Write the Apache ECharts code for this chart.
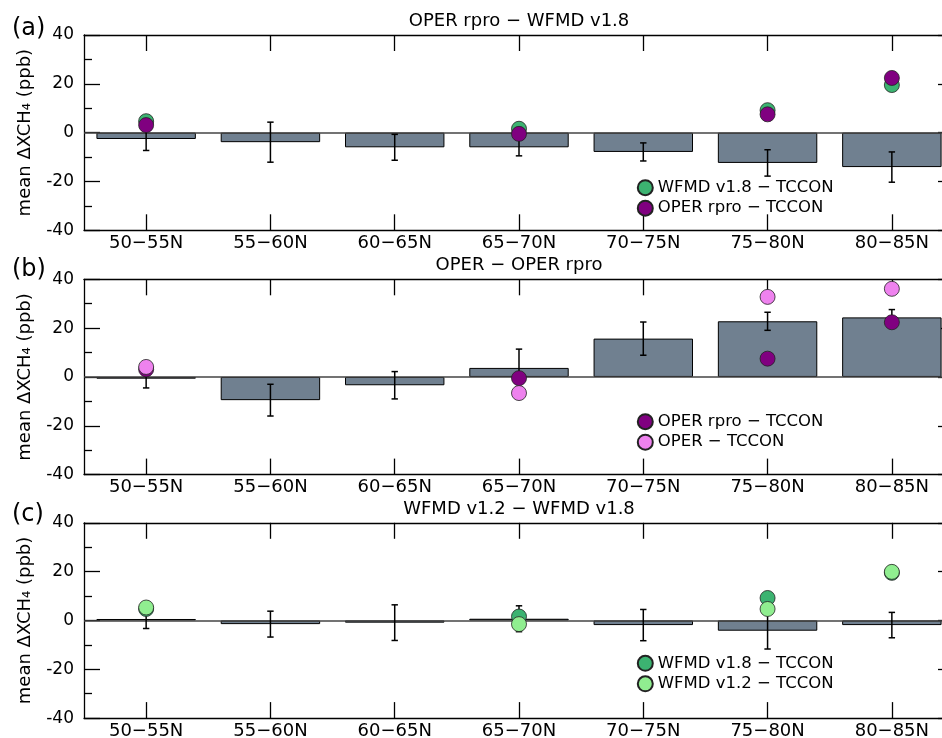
<!DOCTYPE html>
<html>
<head>
<meta charset="utf-8">
<script src="https://cdn.jsdelivr.net/npm/echarts@6/dist/echarts.min.js"></script>
<style>
  html, body { margin: 0; padding: 0; background: #ffffff; }
  #chart { width: 942px; height: 738px; }
</style>
</head>
<body>
<div id="chart"></div>
<script>
// Latitude bands (x categories) and y tick range
const latBands = ['50−55N', '55−60N', '60−65N', '65−70N', '70−75N', '75−80N', '80−85N'];
const yTickValues = [-40, -20, 0, 20, 40];

// (a) OPER rpro − WFMD v1.8 : mean difference and its spread
const diffRproWfmd18 = [-2.6, -3.9, -6.0, -6.0, -7.9, -12.4, -14.1];
const errRproWfmd18 = [4.7, 8.2, 5.3, 3.5, 3.7, 5.4, 6.2];

// (b) OPER − OPER rpro
const diffOperRpro = [-0.7, -9.5, -3.4, 3.7, 15.7, 22.8, 24.4];
const errOperRpro = [3.8, 6.5, 5.6, 7.7, 6.8, 3.7, 3.2];

// (c) WFMD v1.2 − WFMD v1.8
const diffWfmd12Wfmd18 = [0.6, -1.5, -0.9, 0.7, -1.9, -4.2, -1.9];
const errWfmd12Wfmd18 = [3.9, 5.3, 7.3, 5.3, 6.4, 7.5, 5.2];

// Comparisons against TCCON stations (null where no station)
const wfmd18MinusTccon = [4.7, null, null, 1.6, null, 9.2, 19.5];
const operRproMinusTccon = [3.1, null, null, -0.5, null, 7.5, 22.4];
const operMinusTccon = [4.1, null, null, -6.6, null, 32.8, 36.1];
const wfmd12MinusTccon = [5.3, null, null, -1.5, null, 4.7, 19.9];

const FONT = 'DejaVu Sans';
const GRID_LEFT = 84;
const GRID_WIDTH = 870;
const GRID_HEIGHT = 195.3;
const gridTops = [35, 279.3, 522.8];

const panels = [
  {
    letter: '(a)', title: 'OPER rpro − WFMD v1.8',
    diff: diffRproWfmd18, err: errRproWfmd18,
    points: [
      { name: 'WFMD v1.8 − TCCON', color: '#3cb371', values: wfmd18MinusTccon },
      { name: 'OPER rpro − TCCON', color: '#800080', values: operRproMinusTccon }
    ],
    legendTop: 179.2, letterY: 30.5, titleY: 21
  },
  {
    letter: '(b)', title: 'OPER − OPER rpro',
    diff: diffOperRpro, err: errOperRpro,
    points: [
      { name: 'OPER rpro − TCCON', color: '#800080', values: operRproMinusTccon },
      { name: 'OPER − TCCON', color: '#ee82ee', values: operMinusTccon }
    ],
    legendTop: 413.2, letterY: 272, titleY: 265.5
  },
  {
    letter: '(c)', title: 'WFMD v1.2 − WFMD v1.8',
    diff: diffWfmd12Wfmd18, err: errWfmd12Wfmd18,
    points: [
      { name: 'WFMD v1.8 − TCCON', color: '#3cb371', values: wfmd18MinusTccon },
      { name: 'WFMD v1.2 − TCCON', color: '#90ee90', values: wfmd12MinusTccon }
    ],
    legendTop: 654.8, letterY: 516.7, titleY: 509.7
  }
];

const axisLineStyle = { color: '#000', width: 1.3 };
const yMin = yTickValues[0];
const yMax = yTickValues[yTickValues.length - 1];
const yStep = yTickValues[1] - yTickValues[0];

const grid = [], xAxis = [], yAxis = [], series = [], legend = [], graphic = [];

panels.forEach((p, i) => {
  grid.push({
    left: GRID_LEFT, top: gridTops[i], width: GRID_WIDTH, height: GRID_HEIGHT,
    containLabel: false, outerBoundsMode: 'none'
  });

  // bottom category axis with labels
  xAxis.push({
    type: 'category', data: latBands, gridIndex: i, position: 'bottom',
    axisLine: { show: true, onZero: false, lineStyle: axisLineStyle },
    axisTick: { show: true, inside: true, length: 16, alignWithLabel: true, interval: 0, lineStyle: axisLineStyle },
    axisLabel: { show: true, interval: 0, margin: 4, color: '#000', fontSize: 18, fontFamily: FONT },
    splitLine: { show: false }
  });
  // mirrored top axis (ticks only)
  xAxis.push({
    type: 'category', data: latBands, gridIndex: i, position: 'top',
    axisLine: { show: true, onZero: false, lineStyle: axisLineStyle },
    axisTick: { show: true, inside: true, length: 16, alignWithLabel: true, interval: 0, lineStyle: axisLineStyle },
    axisLabel: { show: false },
    splitLine: { show: false }
  });

  const yCommon = {
    type: 'value', gridIndex: i, min: yMin, max: yMax, interval: yStep,
    axisLine: { show: true, onZero: false, lineStyle: axisLineStyle },
    axisTick: { show: true, inside: true, length: 16, lineStyle: axisLineStyle },
    minorTick: { show: true, splitNumber: 2, length: 8, lineStyle: axisLineStyle },
    splitLine: { show: false }, minorSplitLine: { show: false }
  };
  yAxis.push(Object.assign({}, yCommon, {
    position: 'left',
    axisLabel: { show: true, margin: 10, color: '#000', fontSize: 17, fontFamily: FONT, showMinLabel: true, showMaxLabel: true }
  }));
  yAxis.push(Object.assign({}, yCommon, {
    position: 'right',
    axisLabel: { show: false }
  }));

  const xi = i * 2, yi = i * 2;

  // difference bars with zero line
  series.push({
    type: 'bar', name: p.title, xAxisIndex: xi, yAxisIndex: yi,
    data: p.diff, barWidth: '80%', z: 2,
    itemStyle: { color: '#708090', borderColor: '#000', borderWidth: 1 },
    emphasis: { disabled: true },
    markLine: {
      silent: true, symbol: 'none', z: 4,
      label: { show: false },
      lineStyle: { color: '#444', width: 1.6, type: 'solid' },
      emphasis: { disabled: true },
      data: [{ yAxis: 0 }]
    }
  });

  // error bars drawn through the axis scales
  series.push({
    type: 'custom', xAxisIndex: xi, yAxisIndex: yi, z: 6, silent: true,
    data: p.diff.map((v, k) => [k, v, p.err[k]]),
    encode: { x: 0, y: 1 },
    renderItem: (params, api) => {
      const k = api.value(0), v = api.value(1), e = api.value(2);
      const hi = api.coord([k, v + e]);
      const lo = api.coord([k, v - e]);
      const cap = 3.2;
      const st = { stroke: '#000', lineWidth: 1.5 };
      return {
        type: 'group',
        children: [
          { type: 'line', shape: { x1: hi[0], y1: hi[1], x2: lo[0], y2: lo[1] }, style: st },
          { type: 'line', shape: { x1: hi[0] - cap, y1: hi[1], x2: hi[0] + cap, y2: hi[1] }, style: st },
          { type: 'line', shape: { x1: lo[0] - cap, y1: lo[1], x2: lo[0] + cap, y2: lo[1] }, style: st }
        ]
      };
    }
  });

  // station comparisons
  p.points.forEach((pt, j) => {
    series.push({
      type: 'scatter', name: pt.name, xAxisIndex: xi, yAxisIndex: yi,
      data: pt.values.map(v => (v === null ? '-' : v)),
      symbol: 'circle', symbolSize: 15, z: 10 + j,
      itemStyle: { color: pt.color, borderColor: '#222', borderWidth: 0.8, opacity: 1 },
      emphasis: { disabled: true }
    });
  });

  legend.push({
    data: p.points.map(pt => ({ name: pt.name, icon: 'circle' })),
    orient: 'vertical', left: 636.8, top: p.legendTop, padding: 0,
    itemWidth: 15, itemHeight: 15, itemGap: 3.5,
    selectedMode: false,
    textStyle: { color: '#000', fontSize: 16.5, fontFamily: FONT }
  });

  graphic.push({
    type: 'text', left: 12, top: p.letterY - 14,
    style: { text: p.letter, fontSize: 24, fontFamily: FONT, fill: '#000' }
  });
  graphic.push({
    type: 'text', x: GRID_LEFT + GRID_WIDTH / 2, y: p.titleY,
    style: { text: p.title, fontSize: 18, fontFamily: FONT, fill: '#000', align: 'center', verticalAlign: 'middle' }
  });
  graphic.push({
    type: 'text', x: 25.5, y: gridTops[i] + GRID_HEIGHT / 2, rotation: Math.PI / 2,
    style: { text: 'mean ΔXCH₄ (ppb)', fontSize: 18, fontFamily: FONT, fill: '#000', align: 'center', verticalAlign: 'middle' }
  });
});

const chart = echarts.init(document.getElementById('chart'), null, { renderer: 'canvas' });
chart.setOption({
  animation: false,
  backgroundColor: '#ffffff',
  textStyle: { fontFamily: FONT },
  grid, xAxis, yAxis, series, legend, graphic
});
</script>
</body>
</html>
